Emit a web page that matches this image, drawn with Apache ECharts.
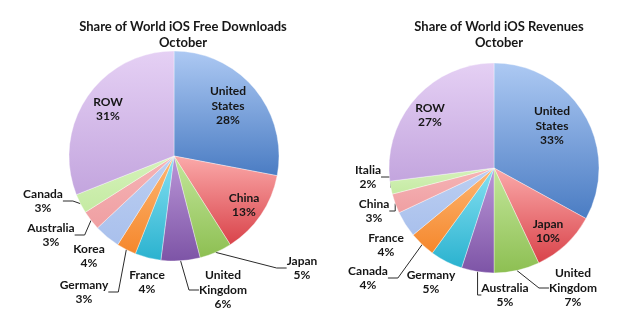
<!DOCTYPE html>
<html><head><meta charset="utf-8">
<script src="https://cdn.jsdelivr.net/npm/echarts@6/dist/echarts.min.js"></script>
<style>html,body{margin:0;padding:0;background:#fff}#c{width:640px;height:330px}</style>
</head><body><div id="c"></div>
<script>
// Data
const downloadsTitle = 'Share of World iOS Free Downloads\nOctober';
const downloadsCategories = ['United\nStates','China','Japan','United\nKingdom','France','Germany','Korea','Australia','Canada','ROW'];
const downloadsValues = [28,13,5,6,4,3,4,3,3,31];

const revenuesTitle = 'Share of World iOS Revenues\nOctober';
const revenuesCategories = ['United\nStates','Japan','United\nKingdom','Australia','Germany','Canada','France','China','Italia','ROW'];
const revenuesValues = [33,10,7,5,5,4,4,3,2,27];

// Styles (slice gradient colours, top -> bottom)
const palette = [
  ['#adc9f3','#4a7cc3'],
  ['#fbaaaa','#d9434a'],
  ['#c4e79c','#8dbf52'],
  ['#bb97d8','#7d54a6'],
  ['#86e0f2','#2ab2cf'],
  ['#fdb774','#f5872c'],
  ['#bccff2','#a9c0ec'],
  ['#f6b4b6','#ef9fa2'],
  ['#d6f2bb','#c4eaa2'],
  ['#e5d0f4','#c3a5de']
];
const FONT = 'Lato, "Liberation Sans", sans-serif';
const R = 105;
const pies = [
  {title: downloadsTitle, titleX: 178, cats: downloadsCategories, vals: downloadsValues, center: [174,156],
   offsets: [[54,-50],[70,49],[128,112],[49,134],[-27,126],[-90,136],[-85,100],[-123,79],[-131,45],[-66,-47]],
   lines:   [0,0,1,1,0,1,0,1,1,0]},
  {title: revenuesTitle, titleX: 494, cats: revenuesCategories, vals: revenuesValues, center: [494,168],
   offsets: [[58,-42],[54,63],[79,120],[11,127],[-63,114],[-126,110],[-108,77],[-120,43],[-126,9],[-64,-53]],
   lines:   [0,0,1,1,0,1,0,1,1,0]}
];

const chart = echarts.init(document.getElementById('c'), null, {renderer:'canvas'});
const series = pies.map((p, si) => ({
  type: 'pie',
  center: p.center,
  radius: [0, R],
  startAngle: 90,
  clockwise: true,
  avoidLabelOverlap: false,
  silent: true,
  label: {
    show: true, position: 'outside', color: '#161616', fontFamily: FONT,
    fontWeight: 'bold', fontSize: 12, lineHeight: 14.5,
    formatter: (d) => d.name + '\n' + d.value + '%'
  },
  labelLine: {show: true, lineStyle: {color: '#2a2a2a', width: 1}, length: 10, length2: 10},
  labelLayout: (params) => {
    const o = p.offsets[params.dataIndex];
    return {x: p.center[0] + o[0], y: p.center[1] + o[1], align: 'center', verticalAlign: 'middle'};
  },
  itemStyle: {borderColor: 'rgba(255,255,255,0.6)', borderWidth: 0.6},
  data: p.cats.map((c, i) => ({
    name: c, value: p.vals[i],
    labelLine: {show: !!p.lines[i]},
    itemStyle: {color: new echarts.graphic.LinearGradient(0,0,0,1,[{offset:0,color:palette[i][0]},{offset:1,color:palette[i][1]}])}
  }))
}));

chart.setOption({
  animation: false,
  title: pies.map(p => ({
    text: p.title, left: p.titleX, top: 14, textAlign: 'center',
    textStyle: {fontFamily: FONT, fontWeight: 'bold', fontSize: 13, lineHeight: 16, color: '#161616'}
  })),
  series: series
});
</script></body></html>
